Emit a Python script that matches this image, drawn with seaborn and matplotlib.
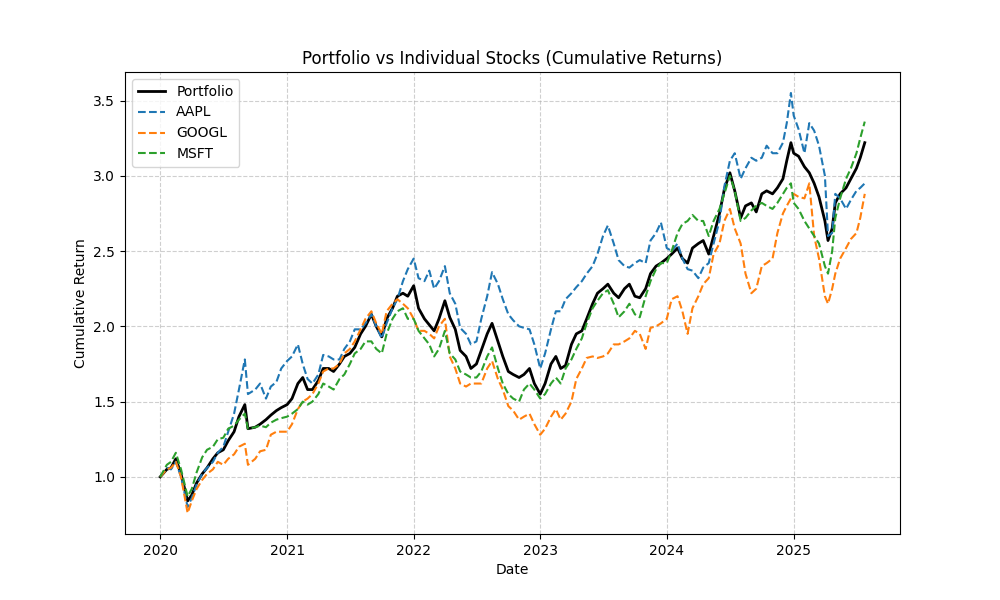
import pandas as pd
import matplotlib
matplotlib.use("Agg")
import matplotlib.pyplot as plt
import seaborn as sns

# roughly twice a month, plus a few extra points at the sharp turns
dates = [
    "2020-01-01", "2020-01-20", "2020-02-01", "2020-02-15", "2020-03-01", "2020-03-20",
    "2020-04-01", "2020-04-15", "2020-05-01", "2020-05-15", "2020-06-01", "2020-06-15",
    "2020-07-01", "2020-07-15", "2020-08-01", "2020-08-15", "2020-09-01", "2020-09-10",
    "2020-10-01", "2020-10-15", "2020-11-01", "2020-11-15", "2020-12-01", "2020-12-15",
    "2021-01-01", "2021-01-15", "2021-02-01", "2021-02-15", "2021-03-01", "2021-03-15",
    "2021-04-01", "2021-04-15", "2021-05-01", "2021-05-15", "2021-06-01", "2021-06-15",
    "2021-07-01", "2021-07-15", "2021-08-01", "2021-08-15", "2021-09-01", "2021-09-15",
    "2021-10-01", "2021-10-15", "2021-11-01", "2021-11-15", "2021-12-01", "2021-12-15",
    "2022-01-01", "2022-01-15", "2022-02-01", "2022-02-15", "2022-03-01", "2022-03-15",
    "2022-04-01", "2022-04-15", "2022-05-01", "2022-05-15", "2022-06-01", "2022-06-15",
    "2022-07-01", "2022-07-15", "2022-08-01", "2022-08-15", "2022-09-01", "2022-09-15",
    "2022-10-01", "2022-10-15", "2022-11-01", "2022-11-15", "2022-12-01", "2022-12-15",
    "2023-01-01", "2023-01-15", "2023-02-01", "2023-02-15", "2023-03-01", "2023-03-15",
    "2023-04-01", "2023-04-15", "2023-05-01", "2023-05-15", "2023-06-01", "2023-06-15",
    "2023-07-01", "2023-07-15", "2023-08-01", "2023-08-15", "2023-09-01", "2023-09-15",
    "2023-10-01", "2023-10-15", "2023-11-01", "2023-11-15", "2023-12-01", "2023-12-15",
    "2024-01-01", "2024-01-15", "2024-02-01", "2024-02-15", "2024-03-01", "2024-03-15",
    "2024-04-01", "2024-04-15", "2024-05-01", "2024-05-15", "2024-06-01", "2024-06-15",
    "2024-07-01", "2024-07-15", "2024-08-01", "2024-08-15", "2024-09-01", "2024-09-15",
    "2024-10-01", "2024-10-15", "2024-11-01", "2024-11-15", "2024-12-01", "2024-12-12",
    "2024-12-24", "2025-01-01", "2025-01-15", "2025-02-01", "2025-02-15", "2025-03-01",
    "2025-03-15", "2025-04-01", "2025-04-10", "2025-04-22", "2025-05-01", "2025-05-15",
    "2025-06-01", "2025-06-15", "2025-07-01", "2025-07-12", "2025-07-25",
]

portfolio = [
    1.00, 1.05, 1.06, 1.12, 1.02, 0.84,
    0.88, 0.96, 1.02, 1.06, 1.12, 1.16,
    1.18, 1.24, 1.30, 1.40, 1.48, 1.32,
    1.33, 1.35, 1.38, 1.41, 1.44, 1.46,
    1.48, 1.52, 1.62, 1.66, 1.58, 1.58,
    1.64, 1.72, 1.72, 1.70, 1.75, 1.80,
    1.82, 1.86, 1.95, 2.00, 2.08, 2.00,
    1.93, 2.05, 2.12, 2.20, 2.22, 2.20,
    2.27, 2.12, 2.05, 2.01, 1.97, 2.05,
    2.17, 2.06, 1.98, 1.84, 1.80, 1.72,
    1.75, 1.84, 1.95, 2.02, 1.90, 1.80,
    1.70, 1.68, 1.66, 1.68, 1.72, 1.62,
    1.55, 1.62, 1.75, 1.80, 1.72, 1.74,
    1.88, 1.95, 1.97, 2.05, 2.15, 2.22,
    2.25, 2.28, 2.22, 2.19, 2.25, 2.28,
    2.20, 2.19, 2.25, 2.35, 2.40, 2.42,
    2.45, 2.48, 2.52, 2.45, 2.42, 2.52,
    2.55, 2.57, 2.48, 2.60, 2.75, 2.91,
    3.02, 2.90, 2.72, 2.80, 2.82, 2.76,
    2.88, 2.90, 2.88, 2.92, 2.98, 3.10,
    3.22, 3.15, 3.13, 3.06, 3.02, 2.95,
    2.86, 2.70, 2.57, 2.65, 2.82, 2.88,
    2.92, 2.98, 3.05, 3.12, 3.22,
]

aapl = [
    1.00, 1.06, 1.05, 1.10, 1.00, 0.80,
    0.86, 0.95, 1.02, 1.06, 1.10, 1.16,
    1.20, 1.30, 1.42, 1.58, 1.78, 1.55,
    1.58, 1.62, 1.52, 1.60, 1.63, 1.72,
    1.77, 1.80, 1.88, 1.75, 1.65, 1.62,
    1.68, 1.81, 1.80, 1.78, 1.78, 1.85,
    1.90, 1.98, 1.98, 2.02, 2.08, 2.00,
    1.92, 2.02, 2.12, 2.18, 2.30, 2.38,
    2.45, 2.32, 2.30, 2.37, 2.25, 2.30,
    2.40, 2.22, 2.15, 1.99, 1.95, 1.88,
    1.90, 2.05, 2.20, 2.36, 2.28, 2.18,
    2.08, 2.04, 2.00, 1.99, 1.98, 1.88,
    1.72, 1.82, 1.98, 2.10, 2.10, 2.18,
    2.22, 2.26, 2.30, 2.35, 2.40, 2.48,
    2.60, 2.67, 2.55, 2.44, 2.40, 2.39,
    2.42, 2.44, 2.42, 2.57, 2.62, 2.69,
    2.52, 2.50, 2.55, 2.45, 2.38, 2.37,
    2.32, 2.39, 2.42, 2.55, 2.70, 2.93,
    3.10, 3.15, 2.98, 3.05, 3.12, 3.10,
    3.12, 3.20, 3.15, 3.15, 3.22, 3.35,
    3.55, 3.40, 3.31, 3.15, 3.35, 3.30,
    3.20, 3.00, 2.60, 2.62, 2.88, 2.85,
    2.78, 2.84, 2.90, 2.92, 2.95,
]

googl = [
    1.00, 1.05, 1.06, 1.10, 1.00, 0.76,
    0.84, 0.92, 0.98, 1.02, 1.05, 1.10,
    1.08, 1.12, 1.15, 1.20, 1.22, 1.08,
    1.12, 1.17, 1.18, 1.28, 1.30, 1.30,
    1.30, 1.35, 1.45, 1.50, 1.52, 1.55,
    1.62, 1.70, 1.72, 1.72, 1.75, 1.82,
    1.85, 1.90, 1.98, 2.05, 2.10, 2.02,
    1.95, 2.10, 2.15, 2.18, 2.15, 2.12,
    2.05, 1.97, 1.97, 1.95, 1.92, 2.00,
    2.05, 1.80, 1.72, 1.62, 1.60, 1.62,
    1.62, 1.62, 1.72, 1.77, 1.65, 1.58,
    1.47, 1.44, 1.38, 1.40, 1.42, 1.35,
    1.28, 1.32, 1.40, 1.45, 1.38, 1.42,
    1.50, 1.65, 1.72, 1.79, 1.80, 1.79,
    1.80, 1.82, 1.88, 1.88, 1.90, 1.92,
    1.97, 1.95, 1.85, 1.99, 2.00, 2.02,
    2.05, 2.18, 2.20, 2.10, 1.95, 2.12,
    2.20, 2.28, 2.32, 2.48, 2.55, 2.70,
    2.78, 2.65, 2.55, 2.35, 2.22, 2.25,
    2.40, 2.42, 2.45, 2.62, 2.75, 2.80,
    2.85, 2.88, 2.86, 2.85, 2.95, 2.60,
    2.45, 2.20, 2.15, 2.25, 2.35, 2.45,
    2.52, 2.58, 2.62, 2.72, 2.88,
]

msft = [
    1.00, 1.08, 1.10, 1.16, 1.05, 0.87,
    0.92, 1.03, 1.13, 1.18, 1.20, 1.25,
    1.26, 1.32, 1.34, 1.38, 1.42, 1.32,
    1.33, 1.34, 1.33, 1.36, 1.38, 1.39,
    1.40, 1.42, 1.45, 1.50, 1.48, 1.50,
    1.55, 1.62, 1.60, 1.58, 1.65, 1.68,
    1.75, 1.82, 1.85, 1.90, 1.90, 1.85,
    1.82, 1.95, 2.05, 2.10, 2.12, 2.05,
    2.05, 1.97, 1.92, 1.88, 1.80, 1.85,
    1.97, 1.82, 1.78, 1.70, 1.68, 1.66,
    1.66, 1.70, 1.80, 1.86, 1.72, 1.62,
    1.55, 1.52, 1.50, 1.58, 1.62, 1.58,
    1.52, 1.55, 1.62, 1.66, 1.62, 1.72,
    1.78, 1.85, 1.92, 2.02, 2.12, 2.17,
    2.22, 2.24, 2.15, 2.06, 2.10, 2.15,
    2.08, 2.06, 2.20, 2.30, 2.38, 2.42,
    2.42, 2.50, 2.62, 2.68, 2.70, 2.74,
    2.70, 2.70, 2.60, 2.70, 2.78, 2.88,
    3.00, 2.90, 2.70, 2.72, 2.77, 2.80,
    2.82, 2.80, 2.78, 2.82, 2.88, 2.92,
    2.95, 2.82, 2.78, 2.70, 2.65, 2.60,
    2.55, 2.40, 2.35, 2.50, 2.72, 2.85,
    2.98, 3.05, 3.15, 3.25, 3.36,
]

df = pd.DataFrame({
    "Date": pd.to_datetime(dates),
    "Portfolio": portfolio,
    "AAPL": aapl,
    "GOOGL": googl,
    "MSFT": msft,
})

fig, ax = plt.subplots(figsize=(10, 6), dpi=100)

sns.lineplot(data=df, x="Date", y="Portfolio", ax=ax, color="black",
             linewidth=2, label="Portfolio")
stock_colors = {"AAPL": "#1f77b4", "GOOGL": "#ff7f0e", "MSFT": "#2ca02c"}
for name, c in stock_colors.items():
    sns.lineplot(data=df, x="Date", y=name, ax=ax, color=c, linewidth=1.5,
                 linestyle="--", label=name)

ax.set_title("Portfolio vs Individual Stocks (Cumulative Returns)")
ax.set_xlabel("Date")
ax.set_ylabel("Cumulative Return")
ax.grid(True, linestyle="--", alpha=0.6)
ax.legend(loc="upper left")

fig.savefig("out.png", dpi=100)
